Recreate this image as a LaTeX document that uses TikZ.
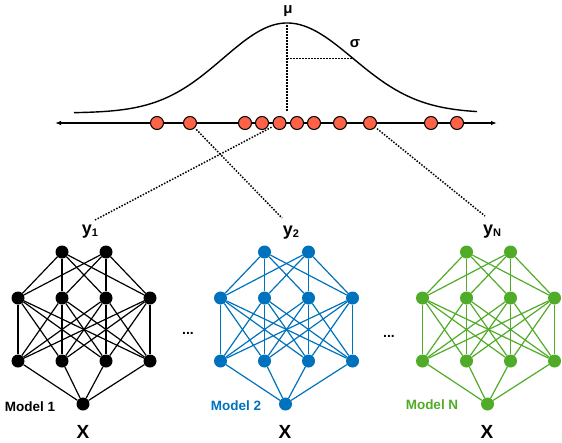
\documentclass[tikz,border=0pt]{standalone}
\usepackage{fontspec}
\setmainfont{Liberation Sans}
\usetikzlibrary{arrows.meta}
\definecolor{mblue}{RGB}{0,114,189}
\definecolor{mgreen}{RGB}{80,172,40}
\definecolor{dotred}{RGB}{255,99,71}
\tikzset{
  nn/.style={circle,inner sep=0pt,minimum size=13pt,draw=none},
  rd/.style={circle,inner sep=0pt,minimum size=13pt,draw=black,line width=1pt,fill=dotred},
  dotline/.style={line width=1.5pt,dash pattern=on 1.5pt off 1.5pt},
  curveline/.style={line width=1.4pt},
  lbl/.style={font=\bfseries\fontsize{13.5}{14}\selectfont,inner sep=0pt},
  bigx/.style={font=\bfseries\fontsize{19}{19}\selectfont,inner sep=0pt},
  ylbl/.style={inner sep=0pt},
}
\newcommand{\ylab}[1]{{\bfseries\fontsize{18}{18}\selectfont y}\raisebox{-1.5pt}{\bfseries\fontsize{11}{11}\selectfont #1}}
\newcommand{\drawnet}[3]{%
  \foreach \i/\dx in {1/-22,2/22} \node[nn,fill=#3] (#1t\i) at ({#2+\dx},252) {};
  \foreach \i/\dx in {1/-66,2/-22,3/22,4/66} \node[nn,fill=#3] (#1a\i) at ({#2+\dx},298) {};
  \foreach \i/\dx in {1/-66,2/-22,3/22,4/66} \node[nn,fill=#3] (#1b\i) at ({#2+\dx},361) {};
  \node[nn,fill=#3] (#1o) at ({#2-1},404) {};
  \foreach \i in {1,2} \foreach \j in {1,...,4} \draw[#3,line width=1.2pt] (#1t\i) -- (#1a\j);
  \foreach \i in {1,...,4} \foreach \j in {1,...,4} \draw[#3,line width=1.2pt] (#1a\i) -- (#1b\j);
  \foreach \j in {1,...,4} \draw[#3,line width=1.2pt] (#1b\j) -- (#1o);
}
\begin{document}
\begin{tikzpicture}[x=1pt,y=-1pt]
\useasboundingbox (0,0) rectangle (562,442);
% gaussian
\draw[curveline] plot[domain=74:287,samples=80,smooth] (\x,{113-90*exp(-0.5*((\x-287)/64)^2)});
\draw[curveline] plot[domain=287:477,samples=80,smooth] (\x,{113-90*exp(-0.5*((\x-287)/66)^2)});
\coordinate (mutop) at (287,25);
\coordinate (mubot) at (287,112);
\coordinate (sgl) at (287,58.4);
\coordinate (sgr) at (352,58.4);
\draw[dotline] (mutop) -- (mubot);
\draw[dotline] (sgl) -- (sgr);
\node[font=\bfseries\fontsize{15}{15}\selectfont,inner sep=0pt] (mu) at (288,11) {μ};
\node[font=\bfseries\fontsize{15}{15}\selectfont,inner sep=0pt] (sig) at (355,44) {σ};
% axis
\coordinate (axl) at (55,123);
\coordinate (axr) at (497,123);
\draw[line width=1.3pt,{Latex[length=6pt,width=4.5pt]}-{Latex[length=6pt,width=4.5pt]}] (axl) -- (axr);
\foreach \k/\xx in {1/157,2/190,3/245,4/262,5/279.5,6/297,7/314,8/340,9/370,10/431,11/457}
  \node[rd] (d\k) at (\xx,123) {};
% y labels
\node[ylbl] (y1) at (90,232) {\ylab{1}};
\node[ylbl] (y2) at (291,233) {\ylab{2}};
\node[ylbl] (yN) at (492,232) {\ylab{N}};
\coordinate (e1) at (95,220);
\coordinate (e2) at (282,218);
\coordinate (e3) at (485,216);
\draw[dotline,shorten <=2pt] (d5) -- (e1);
\draw[dotline,shorten <=2pt] (d2) -- (e2);
\draw[dotline,shorten <=2pt] (d9) -- (e3);
% networks
\drawnet{ma}{84}{black}
\drawnet{mb}{286.5}{mblue}
\drawnet{mc}{488.5}{mgreen}
\node[lbl] (l1) at (30,407) {Model 1};
\node[lbl,text=mblue] (l2) at (236,406) {Model 2};
\node[lbl,text=mgreen] (l3) at (432,405) {Model N};
\node[bigx] (x1) at (83,432) {X};
\node[bigx] (x2) at (285,432) {X};
\node[bigx] (x3) at (487,432) {X};
\node[font=\bfseries\fontsize{14}{14}\selectfont,inner sep=0pt] (dots1) at (188,333) {...};
\node[font=\bfseries\fontsize{14}{14}\selectfont,inner sep=0pt] (dots2) at (389,336) {...};
\end{tikzpicture}
\end{document}
